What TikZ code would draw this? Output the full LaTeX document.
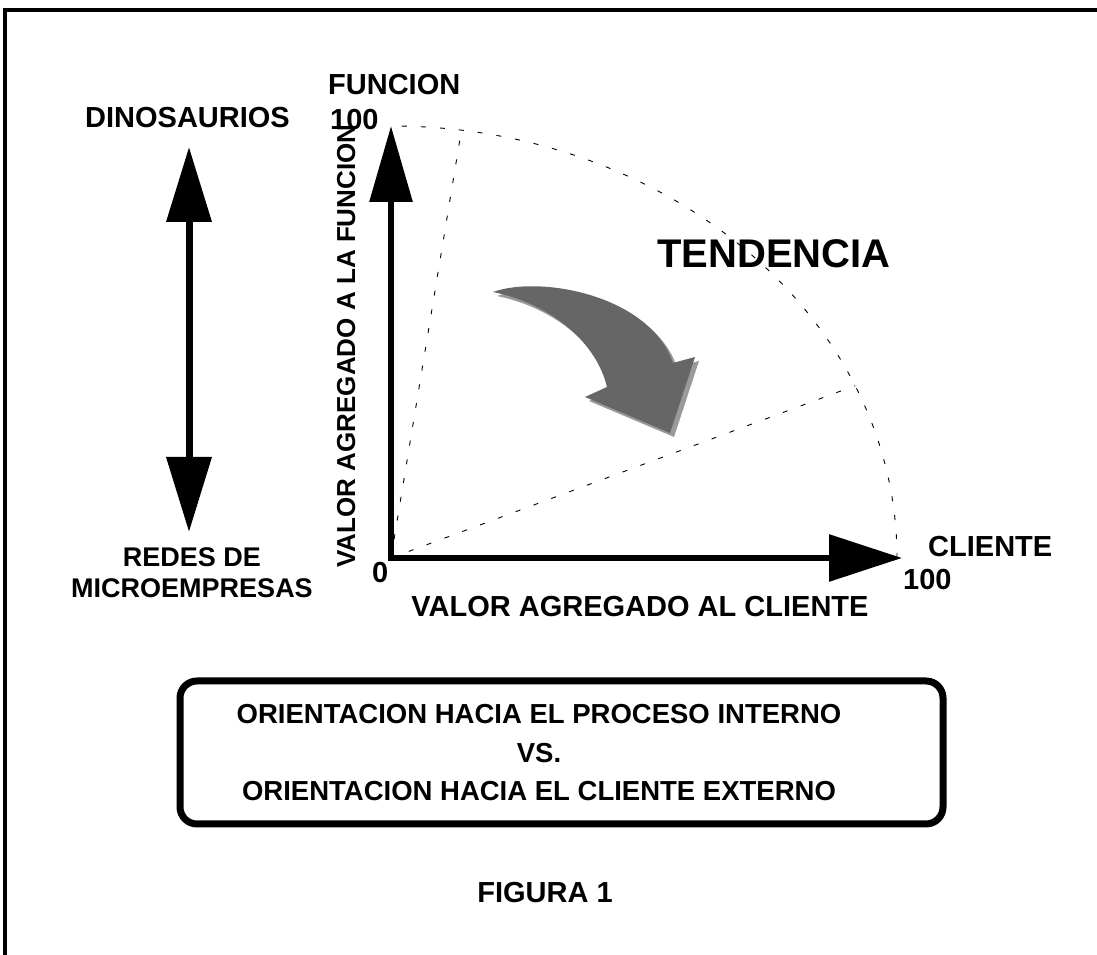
\documentclass[tikz,border=0pt]{standalone}
\usepackage{fontspec}
\setmainfont{Liberation Sans}
\usetikzlibrary{arrows.meta}
\definecolor{flecha}{HTML}{666666}
\definecolor{sombra}{HTML}{9A9A9A}

\begin{document}
\begin{tikzpicture}[x=1pt,y=1pt,
        etiq/.style={font=\fontsize{29}{34}\selectfont\bfseries, inner sep=0pt},
        eje/.style={line width=6pt, line cap=rect},
        guia/.style={line width=0.9pt, dash pattern=on 5pt off 14pt}]
        \useasboundingbox (0,0) rectangle (1097,955);
        \draw[line width=4pt, line join=miter] (5,0) -- (5,945) -- (1097,945);

        \coordinate (O) at (391,397);
        \coordinate (ytop) at (391,829);
        \coordinate (xtip) at (902,397);
        \coordinate (dtop) at (189,808);
        \coordinate (dbot) at (189,423);

        \draw[guia] (O) ++(506,0) arc[start angle=0, end angle=90, x radius=506, y radius=432];
        \draw[guia] (O) -- ++(82:506 and 432);
        \draw[guia] (O) -- ++(23.5:506 and 432);

        \draw[eje, -{Triangle[length=76pt,width=42pt]}] (O) -- (ytop);
        \draw[eje, -{Triangle[length=73pt,width=46pt]}] (O) -- (xtip);
        \draw[line width=7pt, {Triangle[length=75pt,width=44pt]}-{Triangle[length=75pt,width=44pt]}] (dtop) -- (dbot);

        \fill[sombra, shift={(4,-4)}] (493,663) .. controls (540,680) and (650,660) .. (673,592) -- (695,598) -- (670,522) -- (585,558) -- (607,568) .. controls (597,610) and (555,650) .. (493,663) -- cycle;
        \fill[flecha] (493,663) .. controls (540,680) and (650,660) .. (673,592) -- (695,598) -- (670,522) -- (585,558) -- (607,568) .. controls (597,610) and (555,650) .. (493,663) -- cycle;

        \node[etiq, anchor=base west] (funcion) at (328,860) {FUNCION};
        \node[etiq, anchor=base west] (cienY) at (330,825) {100};
        \node[etiq, anchor=base west] (cero) at (372,372) {0};
        \node[etiq, anchor=base west] (cliente) at (928,398) {CLIENTE};
        \node[etiq, anchor=base west] (cienX) at (903,365) {100};
        \node[etiq, anchor=base east] (dino) at (290,827) {DINOSAURIOS};
        \node[etiq, anchor=base, font=\fontsize{27}{31}\selectfont\bfseries] (redes) at (192,388) {REDES DE};
        \node[etiq, anchor=base, font=\fontsize{27}{31}\selectfont\bfseries] (micro) at (192,357) {MICROEMPRESAS};
        \node[etiq, anchor=base] (valcli) at (640,338) {VALOR AGREGADO AL CLIENTE};
        \node[etiq, anchor=base, rotate=90, font=\fontsize{26}{30}\selectfont\bfseries] (valfun) at (355,609) {VALOR AGREGADO A LA FUNCION};
        \node[etiq, anchor=base, font=\fontsize{40}{46}\selectfont\bfseries] (tend) at (774,687) {TENDENCIA};

        \node[draw, line width=7pt, rounded corners=17pt, minimum width=763pt, minimum height=143pt] (marco) at (561.5,202.5) {};
        \node[etiq, align=center, font=\fontsize{27.5}{38.5}\selectfont\bfseries] (orient) at (539,202) {ORIENTACION HACIA EL PROCESO INTERNO\\VS.\\ORIENTACION HACIA EL CLIENTE EXTERNO};

        \node[etiq, anchor=base] (figura) at (545,52) {FIGURA 1};
\end{tikzpicture}
\end{document}
